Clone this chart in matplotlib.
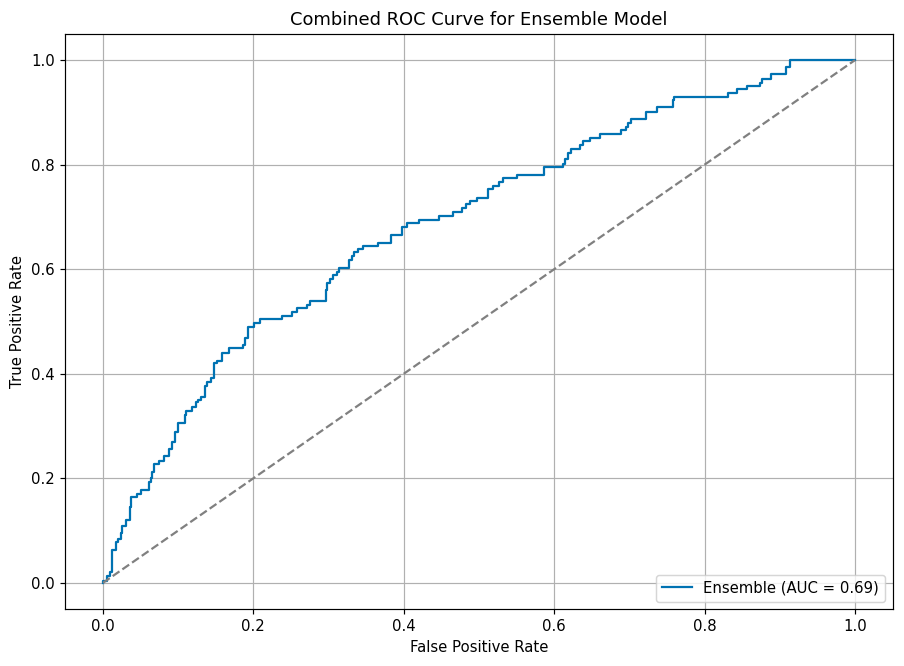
import matplotlib
matplotlib.use("Agg")
import matplotlib.pyplot as plt

# ROC points (fpr, tpr after each step)
fpr = [0.0, 0.0, 0.006, 0.0093, 0.0115, 0.018, 0.0204, 0.0235, 0.0257, 0.030,
       0.0355, 0.037, 0.0456, 0.0501, 0.0612, 0.0634, 0.0656, 0.0678, 0.0745, 0.0815,
       0.0878, 0.0922, 0.0957, 0.0993, 0.109, 0.111, 0.119, 0.1233, 0.127, 0.130,
       0.1356, 0.1387, 0.143, 0.148, 0.152, 0.1578, 0.168, 0.1866, 0.1888, 0.1932,
       0.2008, 0.2088, 0.2376, 0.2508, 0.2574, 0.2708, 0.2753, 0.296, 0.2983, 0.3019,
       0.3054, 0.3107, 0.314, 0.327, 0.3307, 0.3338, 0.3395, 0.346, 0.366, 0.3826,
       0.398, 0.4046, 0.4206, 0.4468, 0.4659, 0.478, 0.4827, 0.488, 0.498, 0.5124,
       0.519, 0.526, 0.5323, 0.551, 0.5864, 0.612, 0.6144, 0.619, 0.622, 0.634,
       0.638, 0.6476, 0.661, 0.6884, 0.6955, 0.6986, 0.7017, 0.7217, 0.737, 0.7575,
       0.759, 0.8316, 0.8425, 0.857, 0.8737, 0.876, 0.888, 0.908, 0.9136, 1.0]
tpr = [0.0, 0.004, 0.013, 0.020, 0.063, 0.079, 0.084, 0.095, 0.108, 0.120,
       0.145, 0.165, 0.170, 0.178, 0.192, 0.200, 0.213, 0.227, 0.234, 0.242,
       0.256, 0.270, 0.289, 0.305, 0.321, 0.328, 0.337, 0.3455, 0.350, 0.356,
       0.377, 0.385, 0.391, 0.420, 0.425, 0.439, 0.449, 0.455, 0.468, 0.490,
       0.4965, 0.505, 0.511, 0.518, 0.525, 0.5315, 0.540, 0.560, 0.573, 0.581,
       0.588, 0.595, 0.603, 0.618, 0.625, 0.632, 0.639, 0.645, 0.651, 0.665,
       0.681, 0.689, 0.694, 0.702, 0.709, 0.718, 0.724, 0.731, 0.737, 0.753,
       0.760, 0.767, 0.775, 0.780, 0.795, 0.802, 0.810, 0.822, 0.830, 0.8375,
       0.845, 0.8515, 0.8585, 0.866, 0.8725, 0.880, 0.887, 0.901, 0.9095, 0.923,
       0.930, 0.9375, 0.944, 0.950, 0.957, 0.964, 0.973, 0.987, 1.0, 1.0]
auc = 0.69

dpi = 107
fig = plt.figure(figsize=(904 / dpi, 666 / dpi), dpi=dpi)
plt.subplots_adjust(left=0.0723, right=0.9874, top=0.949, bottom=0.0856)
plt.plot(fpr, tpr, drawstyle='steps-post', color='#0072B2', lw=1.5,
         label=f'Ensemble (AUC = {auc:.2f})')
plt.plot([0, 1], [0, 1], linestyle='--', color='gray')
plt.xlabel('False Positive Rate')
plt.ylabel('True Positive Rate')
plt.title('Combined ROC Curve for Ensemble Model')
plt.legend(loc='lower right')
plt.grid(True)
plt.savefig('out.png', dpi=dpi)
